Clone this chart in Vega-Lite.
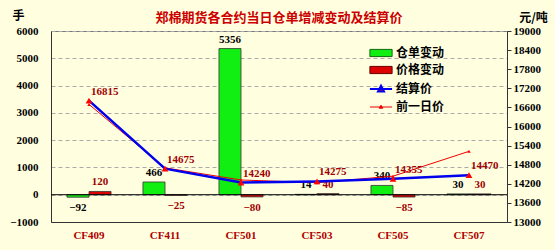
{
  "$schema": "https://vega.github.io/schema/vega-lite/v6.json",
  "width": 456,
  "height": 191,
  "autosize": {"type": "none"},
  "padding": {"left": 51, "top": 31, "right": 48, "bottom": 28},
  "background": "#FFFFE0",
  "title": {"text": "郑棉期货各合约当日仓单增减变动及结算价", "font": "Noto Sans CJK SC", "fontSize": 13, "fontWeight": "bold", "color": "#CC0000", "offset": 8, "dy": 24, "anchor": "middle"},
  "config": {"view": {"stroke": "#777777", "strokeWidth": 1}},
  "data": {"values": [
    {"contract": "CF409", "series": "仓单变动", "value": -92},
    {"contract": "CF409", "series": "价格变动", "value": 120},
    {"contract": "CF409", "series": "结算价", "value": 16815},
    {"contract": "CF409", "series": "前一日价", "value": 16695},
    {"contract": "CF411", "series": "仓单变动", "value": 466},
    {"contract": "CF411", "series": "价格变动", "value": -25},
    {"contract": "CF411", "series": "结算价", "value": 14675},
    {"contract": "CF411", "series": "前一日价", "value": 14700},
    {"contract": "CF501", "series": "仓单变动", "value": 5356},
    {"contract": "CF501", "series": "价格变动", "value": -80},
    {"contract": "CF501", "series": "结算价", "value": 14240},
    {"contract": "CF501", "series": "前一日价", "value": 14320},
    {"contract": "CF503", "series": "仓单变动", "value": 14},
    {"contract": "CF503", "series": "价格变动", "value": 40},
    {"contract": "CF503", "series": "结算价", "value": 14275},
    {"contract": "CF503", "series": "前一日价", "value": 14235},
    {"contract": "CF505", "series": "仓单变动", "value": 340},
    {"contract": "CF505", "series": "价格变动", "value": -85},
    {"contract": "CF505", "series": "结算价", "value": 14355},
    {"contract": "CF505", "series": "前一日价", "value": 14440},
    {"contract": "CF507", "series": "仓单变动", "value": 30},
    {"contract": "CF507", "series": "价格变动", "value": 30},
    {"contract": "CF507", "series": "结算价", "value": 14470},
    {"contract": "CF507", "series": "前一日价", "value": 15220}
  ]},
  "layer": [
    {
      "transform": [{"filter": {"field": "series", "oneOf": ["仓单变动", "价格变动"]}}],
      "encoding": {
        "x": {"field": "contract", "type": "nominal", "sort": null,
          "scale": {"paddingInner": 0.42, "paddingOuter": 0.21},
          "axis": {"title": null, "labelAngle": 0, "labelFont": "Liberation Serif", "labelFontWeight": "bold", "labelFontSize": 11, "labelColor": "#B00000", "ticks": false, "labelPadding": 7, "domainColor": "#333333"}},
        "xOffset": {"field": "series", "type": "nominal", "sort": ["仓单变动", "价格变动"], "scale": {"paddingInner": 0}},
        "y": {"field": "value", "type": "quantitative",
          "scale": {"domain": [-1000, 6000], "nice": false, "zero": false},
          "axis": {"values": [-1000, 0, 1000, 2000, 3000, 4000, 5000, 6000], "format": "d", "title": "手", "titleAngle": 0, "titleX": -33, "titleY": -16, "titleAlign": "center", "titleBaseline": "middle", "titleFont": "Noto Sans CJK SC", "titleFontSize": 12, "titleFontWeight": "bold", "titleColor": "#000000", "labelFont": "Liberation Serif", "labelFontWeight": "bold", "labelFontSize": 11, "labelColor": "#000000", "ticks": false, "labelPadding": 13, "domainColor": "#333333", "grid": true, "gridColor": "#AAAAAA", "gridDash": [4, 3]}}
      },
      "layer": [
        {
          "mark": {"type": "bar"},
          "encoding": {
            "fill": {"field": "series", "type": "nominal",
              "scale": {"domain": ["仓单变动", "价格变动", "结算价", "前一日价"], "range": ["#11EE11", "#DD0000", "#FF0000", "#FF0000"]},
              "legend": {"title": null, "orient": "none", "legendX": 324, "legendY": 16, "symbolSize": 144, "labelFont": "Noto Sans CJK SC", "labelFontSize": 12, "labelFontWeight": "bold", "labelColor": "#000000", "rowPadding": 5, "labelOffset": 9,
                "symbolType": {"expr": "datum.value === '仓单变动' || datum.value === '价格变动' ? 'M-1.85,-0.6H1.85V0.6H-1.85Z' : datum.value === '结算价' ? 'M-1.85,0H1.85M-0.5,0.4L0,-0.55L0.5,0.4Z' : 'M-1.85,0H1.85M-0.3,0.2L0,-0.3L0.3,0.2Z'"},
                "symbolStrokeColor": {"expr": "datum.value === '仓单变动' ? '#116611' : datum.value === '价格变动' ? '#660000' : datum.value === '结算价' ? '#0000EE' : '#EE0000'"},
                "symbolStrokeWidth": {"expr": "datum.value === '结算价' ? 2 : 1"},
                "symbolOpacity": 1
              }
            }
          }
        },
        {
          "mark": {"type": "bar", "fillOpacity": 0, "stroke": "#333333", "strokeWidth": 0.8}
        },
        {
          "transform": [{"filter": "datum.contract === 'CF409' && datum.series === '仓单变动'"}],
          "mark": {"type": "rule", "color": "#000000", "strokeWidth": 1},
          "encoding": {"y": {"datum": 0}, "x": null, "xOffset": null}
        },
        {
          "transform": [{"filter": "datum.series === '仓单变动' && datum.value >= 0"}],
          "mark": {"type": "text", "baseline": "bottom", "dy": -4, "font": "Liberation Serif", "fontWeight": "bold", "fontSize": 11, "color": "#000000"},
          "encoding": {"text": {"field": "value", "type": "quantitative", "format": "d"}}
        },
        {
          "transform": [{"filter": "datum.series === '仓单变动' && datum.value < 0"}],
          "mark": {"type": "text", "baseline": "top", "dy": 5, "font": "Liberation Serif", "fontWeight": "bold", "fontSize": 11, "color": "#000000"},
          "encoding": {"text": {"field": "value", "type": "quantitative", "format": "d"}}
        },
        {
          "transform": [{"filter": "datum.series === '价格变动' && datum.value >= 0"}],
          "mark": {"type": "text", "baseline": "bottom", "dy": -4, "font": "Liberation Serif", "fontWeight": "bold", "fontSize": 11, "color": "#A00000"},
          "encoding": {"text": {"field": "value", "type": "quantitative", "format": "d"}}
        },
        {
          "transform": [{"filter": "datum.series === '价格变动' && datum.value < 0"}],
          "mark": {"type": "text", "baseline": "top", "dy": 5, "font": "Liberation Serif", "fontWeight": "bold", "fontSize": 11, "color": "#A00000"},
          "encoding": {"text": {"field": "value", "type": "quantitative", "format": "d"}}
        }
      ]
    },
    {
      "transform": [{"filter": {"field": "series", "oneOf": ["结算价", "前一日价"]}}],
      "encoding": {
        "x": {"field": "contract", "type": "nominal", "sort": null},
        "y": {"field": "value", "type": "quantitative",
          "scale": {"domain": [13000, 19000], "nice": false, "zero": false},
          "axis": {"orient": "right", "values": [13000, 13600, 14200, 14800, 15400, 16000, 16600, 17200, 17800, 18400, 19000], "format": "d", "title": "元/吨", "titleAngle": 0, "titleX": 26, "titleY": -14, "titleAlign": "center", "titleBaseline": "middle", "titleFont": "Noto Sans CJK SC", "titleFontSize": 12, "titleFontWeight": "bold", "titleColor": "#000000", "labelFont": "Liberation Serif", "labelFontWeight": "bold", "labelFontSize": 11, "labelColor": "#000000", "tickSize": 4, "tickColor": "#333333", "labelPadding": 2, "domainColor": "#333333", "grid": false}}
      },
      "layer": [
        {
          "transform": [{"filter": "datum.series === '前一日价'"}],
          "mark": {"type": "line", "strokeWidth": 1},
          "encoding": {"stroke": {"field": "series", "type": "nominal", "scale": {"domain": ["结算价", "前一日价"], "range": ["#0000EE", "#EE0000"]}, "legend": null}}
        },
        {
          "transform": [{"filter": "datum.series === '结算价'"}],
          "mark": {"type": "line", "strokeWidth": 2.5},
          "encoding": {"stroke": {"field": "series", "type": "nominal", "legend": null}}
        },
        {
          "transform": [{"filter": "datum.series === '前一日价'"}],
          "mark": {"type": "point", "shape": "triangle-up", "filled": true, "size": 12, "color": "#FF0000", "opacity": 1}
        },
        {
          "transform": [{"filter": "datum.series === '结算价'"}],
          "mark": {"type": "point", "shape": "triangle-up", "filled": true, "size": 45, "color": "#FF0000", "opacity": 1}
        },
        {
          "transform": [{"filter": "datum.series === '结算价'"}],
          "mark": {"type": "text", "align": "left", "baseline": "middle", "dx": 2, "dy": -9, "font": "Liberation Serif", "fontWeight": "bold", "fontSize": 11, "color": "#A00000"},
          "encoding": {"text": {"field": "value", "type": "quantitative", "format": "d"}}
        }
      ]
    }
  ],
  "resolve": {"scale": {"y": "independent"}}
}
